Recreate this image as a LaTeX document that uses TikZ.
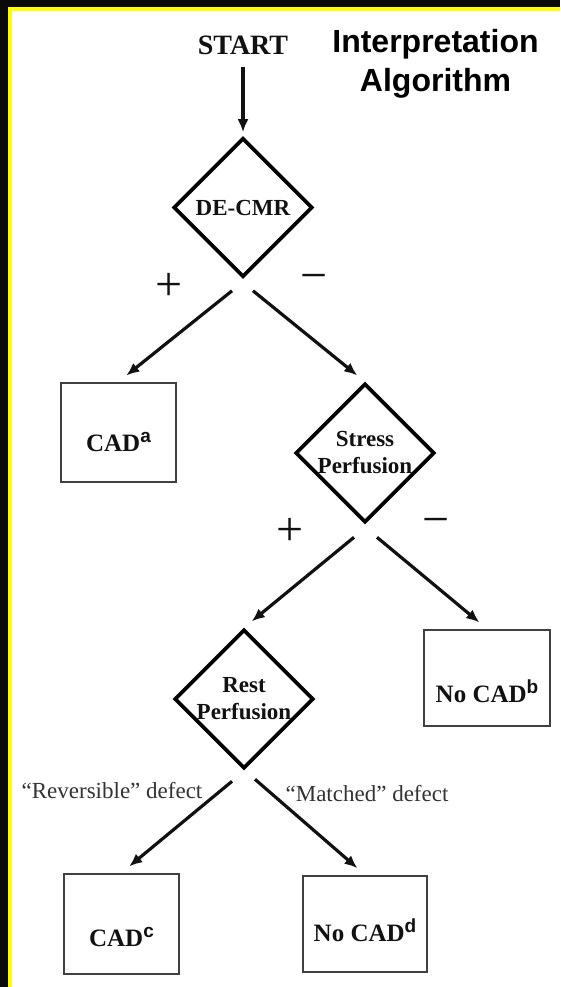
\documentclass[tikz,border=0pt]{standalone}
\usepackage{fontspec}
\setmainfont{Liberation Serif}
\newfontfamily\titlefont{Liberation Sans}
\usetikzlibrary{shapes.geometric,arrows.meta,calc}

\definecolor{ink}{HTML}{111111}
\definecolor{boxgray}{HTML}{404040}
\definecolor{labelgray}{HTML}{333333}
\definecolor{frameblack}{HTML}{0A0A0A}
\definecolor{frameyellow}{HTML}{FFFF00}

% superscript letter set in a bold sans
\newcommand\capsup[1]{\raisebox{9pt}{\titlefont\bfseries\fontsize{19}{19}\selectfont #1}}

\begin{document}
\begin{tikzpicture}[x=1pt,y=-1pt,
  decision/.style={diamond, draw=black, line width=3.6pt, minimum width=139pt,
    minimum height=139pt, inner sep=0pt, align=center,
    font=\bfseries\fontsize{23}{27}\selectfont, text=ink},
  outcome/.style={rectangle, draw=boxgray, line width=2pt, inner sep=0pt,
    text depth=0pt, font=\bfseries\fontsize{25}{25}\selectfont, text=ink},
  flow/.style={line width=3.2pt, draw=ink, -{Latex[length=13pt,width=11pt]}},
  sign/.style={font=\fontsize{48}{48}\selectfont, text=ink, inner sep=0pt},
  branch/.style={font=\fontsize{23}{23}\selectfont, text=labelgray, inner sep=0pt, anchor=base},
]
% frame
\fill[frameblack] (0,0) rectangle (560,987);
\fill[frameyellow] (8,7) rectangle (560,987);
\fill[white] (12,11) rectangle (560,987);
\useasboundingbox (0,0) rectangle (560,987);

% title and start
\node[font=\bfseries\fontsize{28}{28}\selectfont, text=ink, inner sep=0pt, anchor=base] (start) at (243,55) {START};
\node[font=\titlefont\bfseries\fontsize{32}{39}\selectfont, text=black, align=center, inner sep=0pt] (title) at (435.5,63.5) {Interpretation\\Algorithm};

% decisions
\node[decision] (d1) at (243,207.5) {DE-CMR};
\node[decision] (d2) at (365,453) {Stress\\Perfusion};
\node[decision] (d3) at (244,699) {Rest\\Perfusion};

% outcomes
\node[outcome, minimum width=115.5pt, minimum height=99.5pt, text height=37pt] (a) at (118.5,432.5) {CAD\capsup{a}};
\node[outcome, minimum width=126.5pt, minimum height=96.5pt, text height=48pt] (b) at (487,678) {No CAD\capsup{b}};
\node[outcome, minimum width=115.5pt, minimum height=100.5pt, text height=44pt] (c) at (121.5,924) {CAD\capsup{c}};
\node[outcome, minimum width=124.5pt, minimum height=96.5pt, text height=34pt] (dd) at (365,924) {No CAD\capsup{d}};

% branch signs and labels
\node[sign] (p1) at (169,287) {+};
\node[sign] (m1) at (314,283) {−};
\node[sign] (p2) at (290,532) {+};
\node[sign] (m2) at (436,527) {−};
\node[branch] (rev) at (112,798) {“Reversible” defect};
\node[branch] (mat) at (367,801) {“Matched” defect};

% branch start points just below each decision
\coordinate (d1l) at ($(d1.south)+(-11,12)$);
\coordinate (d1r) at ($(d1.south)+(10,12)$);
\coordinate (d2l) at ($(d2.south)+(-11,13)$);
\coordinate (d2r) at ($(d2.south)+(12,13)$);
\coordinate (d3l) at ($(d3.south)+(-12,11)$);
\coordinate (d3r) at ($(d3.south)+(11,9)$);

% connectors
\draw[flow, shorten <=12pt, shorten >=4pt] (start.south) -- (d1.north);
\draw[flow, shorten >=10pt] (d1l) -- (a.north);
\draw[flow, shorten >=10pt] (d1r) -- (d2.north);
\draw[flow, shorten >=10pt] (d2l) -- (d3.north);
\draw[flow, shorten >=10pt] (d2r) -- (b.north);
\draw[flow, shorten >=10pt] (d3l) -- (c.north);
\draw[flow, shorten >=10pt] (d3r) -- (dd.north);
\end{tikzpicture}
\end{document}
